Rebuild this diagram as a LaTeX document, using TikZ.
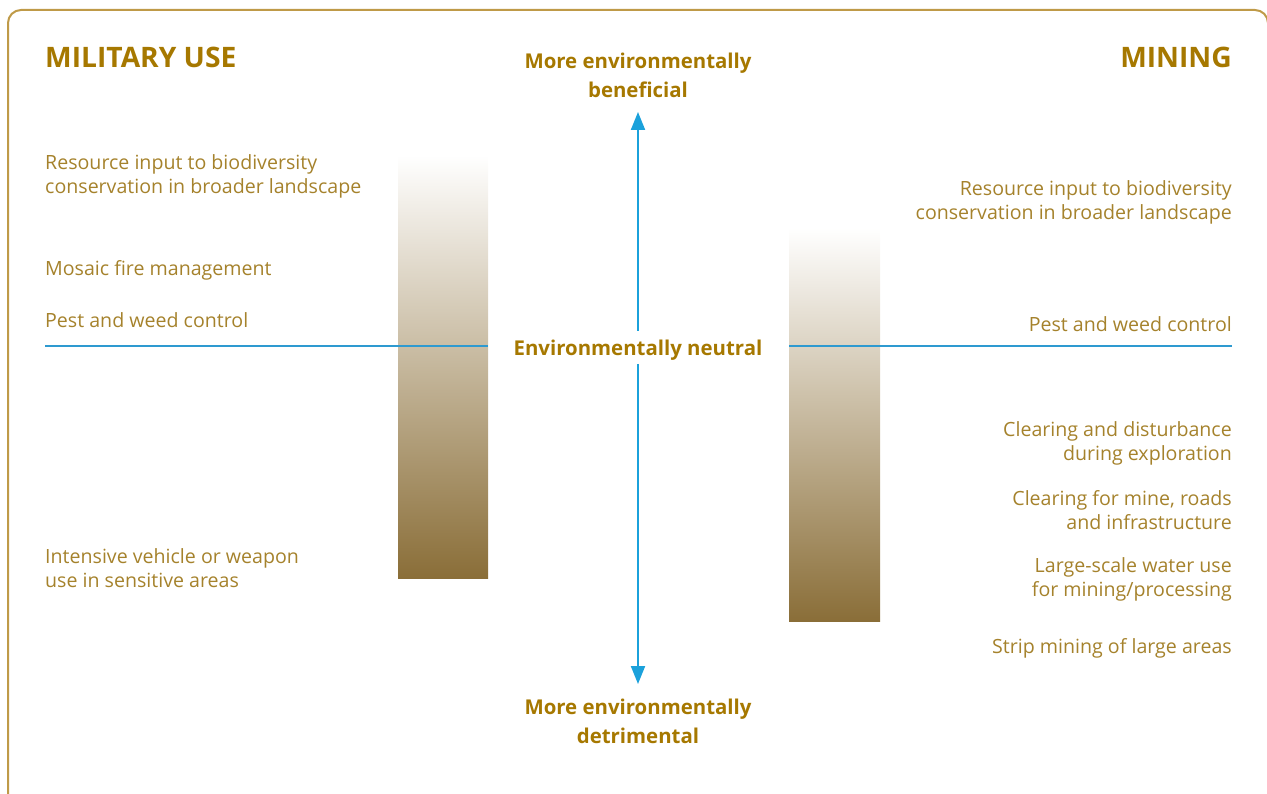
\documentclass[tikz,border=0pt]{standalone}
\usepackage{fontspec}
\setmainfont{Open Sans}
\usetikzlibrary{arrows.meta}
\definecolor{gold}{HTML}{A67800}
\definecolor{txt}{HTML}{A5822C}
\definecolor{framec}{HTML}{BF9A48}
\definecolor{bluec}{HTML}{1BA1DB}
\definecolor{linec}{HTML}{2E9AD0}
\definecolor{barbot}{HTML}{8A6E38}
\tikzset{
  head/.style={font=\fontsize{28.2}{30}\selectfont\bfseries, text=gold, inner sep=0pt},
  axislabel/.style={font=\fontsize{20.4}{29}\selectfont\bfseries, text=gold, align=center, inner sep=0pt},
  item/.style={font=\fontsize{19.6}{24}\selectfont, text=txt, inner sep=0pt},
  litem/.style={item, align=left, anchor=north west},
  ritem/.style={item, align=right, anchor=north east},
  bar/.style={top color=white, bottom color=barbot, draw=none},
  axisarrow/.style={draw=bluec, line width=2pt, -{Triangle[length=18pt,width=14pt]}},
  neutralline/.style={draw=linec, line width=1.2pt},
}
\begin{document}
\begin{tikzpicture}[x=1pt,y=-1pt]
\useasboundingbox (0,0) rectangle (1267,794);
\clip (0,0) rectangle (1267,794);
\draw[framec, line width=2pt, rounded corners=13pt] (8,800) -- (8,10) -- (1268,10) -- (1268,100);
% bars
\path[bar] (398,155) rectangle (488,578);
\path[bar] (789,228) rectangle (880,621);
% neutral lines
\coordinate (nl1) at (45,346);
\coordinate (nl2) at (488,346);
\coordinate (nr1) at (789,346);
\coordinate (nr2) at (1232,346);
\draw[neutralline] (nl1) -- (nl2);
\draw[neutralline] (nr1) -- (nr2);
% headings
\node[head, anchor=base west] (mil) at (45,68) {MILITARY USE};
\node[head, anchor=base east] (min) at (1232,68) {MINING};
% axis labels
\node[axislabel, anchor=north] (ben) at (638,53) {More environmentally\\beneficial};
\node[axislabel] (neu) at (638,350) {Environmentally neutral};
\node[axislabel, anchor=north] (det) at (638,699) {More environmentally\\detrimental};
\coordinate (upS) at (638,331);
\coordinate (upE) at (638,112);
\coordinate (dnS) at (638,364);
\coordinate (dnE) at (638,684);
\draw[axisarrow] (upS) -- (upE);
\draw[axisarrow] (dnS) -- (dnE);
% left items
\node[litem] (l1) at (45,154) {Resource input to biodiversity\\conservation in broader landscape};
\node[litem] (l2) at (45,260) {Mosaic fire management};
\node[litem] (l3) at (45,312) {Pest and weed control};
\node[litem] (l4) at (45,548) {Intensive vehicle or weapon\\use in sensitive areas};
% right items
\node[ritem] (r1) at (1232,180) {Resource input to biodiversity\\conservation in broader landscape};
\node[ritem] (r2) at (1232,316) {Pest and weed control};
\node[ritem] (r3) at (1232,421) {Clearing and disturbance\\during exploration};
\node[ritem] (r4) at (1232,490) {Clearing for mine, roads\\and infrastructure};
\node[ritem] (r5) at (1232,557) {Large-scale water use\\for mining/processing};
\node[ritem] (r6) at (1232,638) {Strip mining of large areas};
\end{tikzpicture}
\end{document}
